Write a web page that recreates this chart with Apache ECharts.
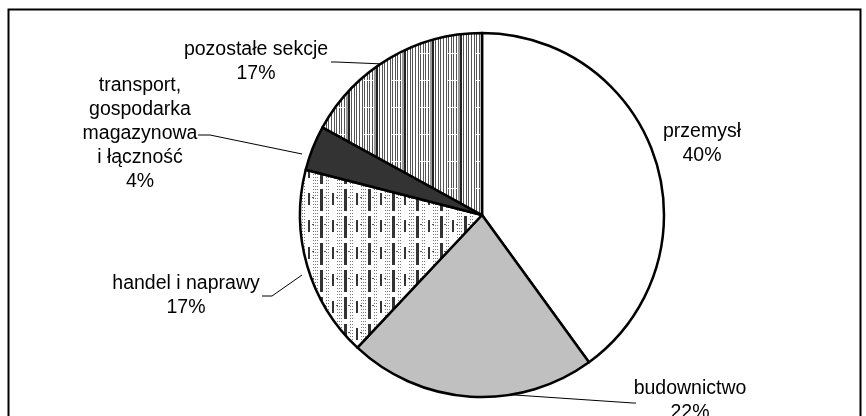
<!DOCTYPE html>
<html>
<head>
<meta charset="utf-8">
<script src="https://cdn.jsdelivr.net/npm/echarts@6/dist/echarts.min.js"></script>
<style>
html,body{margin:0;padding:0;background:#fff;}
#chart{width:866px;height:416px;}
</style>
</head>
<body>
<div id="chart"></div>
<script>
// ---- data ----
var categories = ['przemysł', 'budownictwo', 'handel i naprawy', 'transport,\ngospodarka\nmagazynowa\ni łączność', 'pozostałe sekcje'];
var values = [40, 22, 17, 4, 17];
var percentLabels = ['40%', '22%', '17%', '4%', '17%'];

// ---- pattern tiles ----
function makeVerticalLines() {
  var c = document.createElement('canvas');
  c.width = 28; c.height = 27;
  var g = c.getContext('2d');
  g.fillStyle = '#fff'; g.fillRect(0, 0, 28, 27);
  var thin = [0, 3, 5, 8, 15, 18, 20, 23, 26];
  g.fillStyle = '#555';
  thin.forEach(function (x) { g.fillRect(x, 0, 1, 27); });
  g.fillStyle = '#999'; g.fillRect(10, 0, 2, 27);
  g.fillStyle = '#222'; g.fillRect(12, 0, 2, 27);
  g.fillStyle = '#fff'; g.fillRect(0, 26, 9, 1);
  return c;
}
function makeDotted() {
  var c = document.createElement('canvas');
  c.width = 24; c.height = 27;
  var g = c.getContext('2d');
  g.fillStyle = '#fff'; g.fillRect(0, 0, 24, 27);
  g.fillStyle = '#777';
  [1, 3, 5, 14, 16].forEach(function (x) {
    for (var y = 0; y < 27; y += 3) g.fillRect(x, y, 1, 1);
  });
  g.fillStyle = '#555';
  g.fillRect(12, 8, 2, 1); g.fillRect(0, 8, 2, 1);
  g.fillStyle = '#333';
  g.fillRect(8, 0, 3, 22);
  g.fillRect(20, 4, 2, 12);
  return c;
}

var fills = [
  '#ffffff',
  '#c0c0c0',
  { image: makeDotted(), repeat: 'repeat' },
  '#333333',
  { image: makeVerticalLines(), repeat: 'repeat' }
];

// label block centres and leader lines (layout only)
var labelPos = [
  { x: 702, y: 144, line: null },
  { x: 690, y: 401, line: [[500, 394], [633, 403], [636, 403]] },
  { x: 186, y: 296, line: [[302, 275], [272, 296], [262, 296]] },
  { x: 140, y: 134, line: [[302, 154], [210, 135], [198, 135]] },
  { x: 256, y: 62, line: [[384, 64], [336, 62], [331, 62]] }
];

var data = categories.map(function (name, i) {
  var item = {
    name: name,
    value: values[i],
    itemStyle: { color: fills[i] }
  };
  if (!labelPos[i].line) item.labelLine = { show: false };
  return item;
});

var chart = echarts.init(document.getElementById('chart'), null, { renderer: 'canvas' });
chart.setOption({
  animation: false,
  backgroundColor: '#fff',
  graphic: [{
    type: 'rect',
    shape: { x: 8.5, y: 9.5, width: 852, height: 430 },
    style: { fill: 'none', stroke: '#000', lineWidth: 2 },
    z: 10
  }],
  series: [{
    type: 'pie',
    center: [482, 215],
    radius: 182,
    startAngle: 90,
    clockwise: true,
    data: data,
    itemStyle: { borderColor: '#000', borderWidth: 2.5 },
    label: {
      show: true,
      position: 'outside',
      formatter: function (p) { return p.name + '\n' + percentLabels[p.dataIndex]; },
      fontFamily: 'Liberation Sans, Arial, sans-serif',
      fontSize: 19.5,
      lineHeight: 24,
      color: '#000',
      align: 'center'
    },
    labelLine: { show: true, lineStyle: { color: '#000', width: 1 } },
    labelLayout: function (params) {
      var p = labelPos[params.dataIndex];
      var res = { x: p.x, y: p.y, align: 'center', verticalAlign: 'middle', hideOverlap: false, moveOverlap: false };
      if (p.line) res.labelLinePoints = p.line;
      return res;
    },
    emphasis: { disabled: true }
  }]
});
</script>
</body>
</html>
